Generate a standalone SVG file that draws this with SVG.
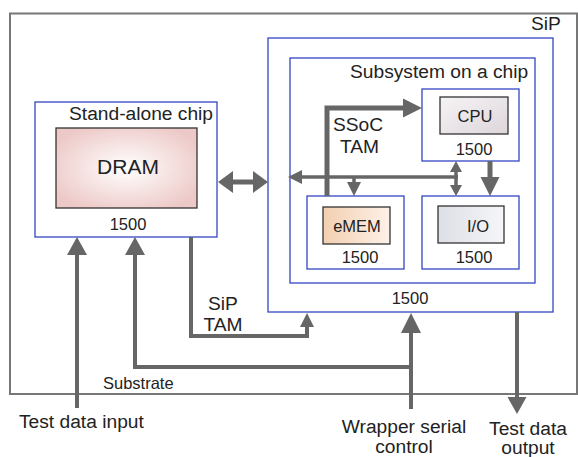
<svg xmlns="http://www.w3.org/2000/svg" width="578" height="457" viewBox="0 0 578 457">
<style>
text{font-family:"Liberation Sans",Arial,sans-serif;fill:#222}
.big{font-size:19.2px}
.sm{font-size:16.5px}
.wrap{fill:#fff;stroke:#3346c4;stroke-width:1.3}
.core{stroke:#333;stroke-width:1.3}
.ln{fill:none;stroke:#666;stroke-linejoin:miter}
.ah{fill:#666}
</style>
<defs>
<radialGradient id="gDram" cx="50%" cy="50%" r="60%">
<stop offset="0" stop-color="#ffffff"/>
<stop offset="1" stop-color="#ecc8c6"/>
</radialGradient>
<linearGradient id="gCpu" x1="0" y1="0" x2="1" y2="1">
<stop offset="0" stop-color="#f6f3f5"/>
<stop offset="1" stop-color="#ddd6db"/>
</linearGradient>
<linearGradient id="gMem" x1="0" y1="0" x2="1" y2="0">
<stop offset="0" stop-color="#f3cfb0"/>
<stop offset="1" stop-color="#fdf1e8"/>
</linearGradient>
<linearGradient id="gIo" x1="0" y1="0" x2="1" y2="0">
<stop offset="0" stop-color="#dddfe6"/>
<stop offset="1" stop-color="#f6f6f9"/>
</linearGradient>
</defs>

<g id="sip">
<rect x="10" y="13.5" width="567" height="380.5" fill="#fff" stroke="#777" stroke-width="2"/>
<text class="big" x="531" y="30">SiP</text>
</g>

<g id="standalone">
<rect class="wrap" x="35" y="102" width="182" height="135"/>
<text class="big" x="69" y="120">Stand-alone chip</text>
<rect class="core" x="56" y="128" width="141" height="80" fill="url(#gDram)"/>
<text x="128" y="174" text-anchor="middle" style="font-size:21px">DRAM</text>
<text class="sm" x="128" y="230" text-anchor="middle">1500</text>
</g>

<g id="ssoc-wrapper">
<rect class="wrap" x="268" y="38" width="285" height="274"/>
<text class="sm" x="410" y="304" text-anchor="middle">1500</text>
</g>

<g id="subsystem">
<rect class="wrap" x="290" y="58" width="245" height="225"/>
<text class="big" x="350" y="78">Subsystem on a chip</text>
<text class="big" x="333" y="131">SSoC</text>
<text class="big" x="340" y="153">TAM</text>
</g>

<g id="cpu">
<rect class="wrap" x="422" y="89" width="97" height="72"/>
<rect class="core" x="440" y="97" width="68" height="37" fill="url(#gCpu)"/>
<text class="sm" x="475" y="122" text-anchor="middle">CPU</text>
<text class="sm" x="474" y="155" text-anchor="middle">1500</text>
</g>

<g id="emem">
<rect class="wrap" x="307" y="196" width="97" height="73"/>
<rect class="core" x="323" y="207" width="67" height="37" fill="url(#gMem)"/>
<text class="sm" x="357" y="232" text-anchor="middle">eMEM</text>
<text class="sm" x="360" y="263" text-anchor="middle">1500</text>
</g>

<g id="io">
<rect class="wrap" x="422" y="196" width="97" height="73"/>
<rect class="core" x="438" y="206" width="66" height="37" fill="url(#gIo)"/>
<text class="sm" x="478" y="232" text-anchor="middle">I/O</text>
<text class="sm" x="474" y="263" text-anchor="middle">1500</text>
</g>

<g id="connectors">
<line class="ln" x1="232" y1="182" x2="254" y2="182" stroke-width="5"/>
<polygon class="ah" points="218,182 233,171 233,193"/>
<polygon class="ah" points="268,182 253,171 253,193"/>

<polyline class="ln" points="327,196 327,108 405,108" stroke-width="5"/>
<polygon class="ah" points="422,108 403,98.5 403,117.5"/>

<line class="ln" x1="300" y1="177" x2="458" y2="177" stroke-width="3.5"/>
<polygon class="ah" points="288,177 302,170 302,184"/>
<line class="ln" x1="354" y1="177" x2="354" y2="184" stroke-width="3.5"/>
<polygon class="ah" points="354,196 347,182 361,182"/>

<line class="ln" x1="456" y1="170" x2="456" y2="188" stroke-width="3.5"/>
<polygon class="ah" points="456,161 450,172 462,172"/>
<polygon class="ah" points="456,196 450,185 462,185"/>

<line class="ln" x1="490" y1="161" x2="490" y2="180" stroke-width="5"/>
<polygon class="ah" points="490,196 480.5,177 499.5,177"/>

<line class="ln" x1="77" y1="408" x2="77" y2="252" stroke-width="4"/>
<polygon class="ah" points="77,237 67,255 87,255"/>

<polyline class="ln" points="135,252 135,367 411,367" stroke-width="4"/>
<polygon class="ah" points="135,237 125,255 145,255"/>
<line class="ln" x1="411" y1="409" x2="411" y2="328" stroke-width="4"/>
<polygon class="ah" points="411,313 401,333 421,333"/>

<polyline class="ln" points="191,237 191,336 307,336 307,324" stroke-width="4"/>
<polygon class="ah" points="307,313 300,327 314,327"/>

<line class="ln" x1="517" y1="312" x2="517" y2="400" stroke-width="4"/>
<polygon class="ah" points="517,414 507.5,397 526.5,397"/>
</g>

<g id="labels">
<text class="big" x="223" y="310" text-anchor="middle">SiP</text>
<text class="big" x="223" y="331" text-anchor="middle">TAM</text>
<text class="sm" x="103" y="389">Substrate</text>
<text class="big" x="19" y="428">Test data input</text>
<text class="big" x="404" y="433" text-anchor="middle">Wrapper serial</text>
<text class="big" x="404" y="453" text-anchor="middle">control</text>
<text class="big" x="528" y="435" text-anchor="middle">Test data</text>
<text class="big" x="528" y="454" text-anchor="middle">output</text>
</g>
</svg>
